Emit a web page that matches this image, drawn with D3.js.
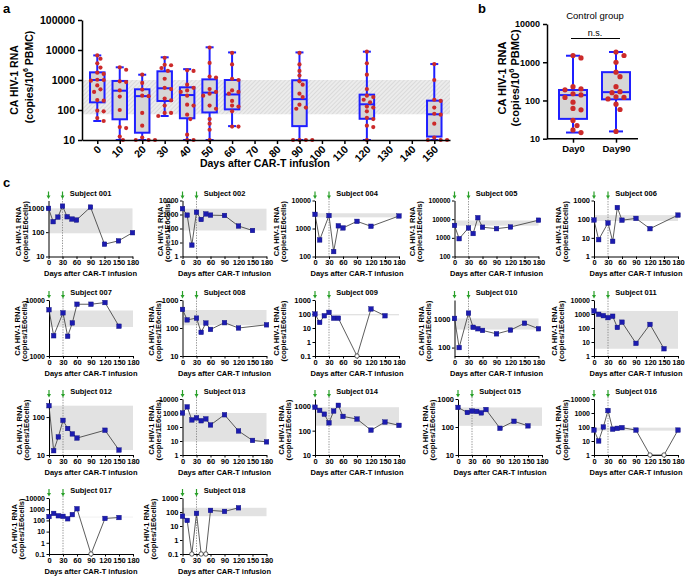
<!DOCTYPE html>
<html><head><meta charset="utf-8">
<script src="https://cdn.jsdelivr.net/npm/d3@7"></script>
<style>
body{margin:0;background:#fff}
svg{display:block}
text{font-family:"Liberation Sans",Arial,Helvetica,sans-serif}
</style>
</head><body>
<svg id="c" width="685" height="578"></svg>
<script>
// ---------------- DATA ----------------
// Panel a: days after CAR-T infusion
const daysA = [0,10,20,30,40,50,60,90,120,150];
// box stats per day: [min, q1, median, q3, max]
const boxA = [
  [43,180,1000,1800,6600],
  [10,49,440,930,2650],
  [10,17.5,290,490,1500],
  [63,200,530,1950,5700],
  [10,53,315,570,2300],
  [10,83,380,1050,12300],
  [29,105,330,1000,8300],
  [10,29,230,980,8300],
  [10,51,155,325,8800],
  [10,13,72,205,3400]
];
const pointsA = [
  [6600,5100,3600,2600,1750,1600,1020,1000,950,660,490,400,215,205,95,90,54,43],
  [2650,2200,900,850,450,280,100,27,25,13,10],
  [1500,800,480,300,290,80,30,12,10,10,10],
  [5500,3200,3100,2500,2000,1100,550,500,240,210,140,80,80,63],
  [2100,2000,700,550,450,400,300,150,140,70,50,15,10,10],
  [12000,3700,1300,1200,500,400,350,300,140,110,50,35,22,10],
  [8000,3300,1100,1000,450,400,350,200,140,130,90,28,28],
  [8000,3300,2000,1400,900,700,350,270,150,120,110,10,10,10,10],
  [8800,3600,1500,500,300,270,220,180,130,120,90,55,50,30,27,10],
  [3400,1000,220,200,120,75,70,35,12,10,10,10]
];
const bandA = [72,1000];
const ticksA = [10,100,1000,10000,100000];

// Panel b: control group
const groupsB = ["Day0","Day90"];
const boxB = [
  [14.5,33,138,188,1480],
  [15.5,107,165,550,1850]
];
const pointsB = [
  [1500,1300,230,200,190,150,140,120,90,62,57,30,22,17,14.5],
  [1850,1500,1000,550,420,230,170,160,125,120,110,80,58,15.5]
];
const ticksB = [10,100,1000,10000];

// Panel c: individual subjects (0 = undetectable, drawn as open circle at axis minimum)
const subjectIds = ["001","002","004","005","006","007","008","009","010","011","012","013","014","015","016","017","018"];
const subjectDays = [
  [0,10,20,30,40,50,60,90,120,150,180],
  [0,10,20,30,40,50,60,90,120,150],
  [0,10,30,40,50,60,90,120,180],
  [0,10,30,40,50,60,90,120,180],
  [0,10,30,40,50,60,90,120,180],
  [0,10,30,40,50,60,90,120,150],
  [0,10,30,40,50,60,90,120,180],
  [0,10,20,30,40,50,90,120,150],
  [0,10,30,40,50,60,90,120,150,180],
  [0,10,20,30,40,50,60,90,120,150],
  [0,10,20,30,40,50,60,120,150],
  [0,10,20,30,40,50,60,90,120,150,180],
  [0,10,20,30,40,50,60,90,120,150,180],
  [0,20,30,40,50,60,90,120,150],
  [0,10,20,30,40,50,60,90,120,150,180],
  [0,10,20,30,40,50,60,90,120,150],
  [0,10,20,30,40,50,60,90,120]
];
const subjectValues = [
  [950,270,415,1170,430,345,315,1070,32,44,95],
  [2600,900,6.5,1450,440,1100,900,850,150,72],
  [3200,390,2900,150,1250,1050,1800,1200,2800],
  [4600,900,3400,1700,12000,3700,3100,3800,8800],
  [90,8,63,6.5,420,88,110,31,165],
  [6700,2300,5900,2250,3900,8400,8400,9000,3400],
  [460,195,225,70,150,89,155,100,130],
  [100,25,75,130,50,50,0,230,75],
  [1100,100,1700,530,470,410,310,420,740,470],
  [1650,950,760,550,690,110,260,8,180,3.3],
  [200,13,30,82,50,36,28,45,13.5],
  [1000,2750,320,450,280,380,140,750,52,11,8.7],
  [920,680,475,210,640,1100,385,300,105,225,165],
  [500,330,370,360,320,420,90,160,110],
  [60,10,100,1500,70,80,90,60,0,0,60],
  [220,420,260,230,140,330,1100,0,150,180],
  [50,25,0,80,0,0,130,110,200]
];
const subjectBand = [
  [90,950],[72,2600],[2500,3500],[4500,8500],[80,165],
  [3300,6500],[125,440],[80,100],[440,1100],[3.3,1650],
  [13.5,200],[9,1000],[160,920],[110,500],[55,90],
  [190,210],[50,200]
];
const subjectYDomain = [
  [10,2000],[1,10000],[100,10000],[100,100000],[1,1000],
  [1000,10000],[10,1000],[0.1,1000],[50,5000],[1,10000],
  [10,300],[1,10000],[10,2000],[10,1000],[1,10000],
  [0.1,10000],[0.1,1000]
];
const xTicksC = [0,30,60,90,120,150,180];
const infusionDays = [0,30];

// ---------------- LAYOUT ----------------
const FONT = '"Liberation Sans",Arial,Helvetica,sans-serif';
const svg = d3.select("#c");
const defs = svg.append("defs");
const pat = defs.append("pattern").attr("id","hatch").attr("width",3).attr("height",3)
  .attr("patternUnits","userSpaceOnUse").attr("patternTransform","rotate(45)");
pat.append("rect").attr("width",3).attr("height",3).attr("fill","#ececec");
pat.append("line").attr("x1",0).attr("y1",0).attr("x2",0).attr("y2",3).attr("stroke","#c9c9c9").attr("stroke-width",1);

const BLUE = "#1f1fff", RED = "#cc2a2a", BOXFILL = "#d6d6d6";

function swarm(vals, yfun, cx, r, step){
  const placed = [];
  const sorted = vals.map((v,i)=>({v,i})).sort((a,b)=>b.v-a.v);
  sorted.forEach(p=>{
    const y = yfun(p.v);
    for(let k=0;k<20;k++){
      const off = k===0?0:(k%2?1:-1)*Math.ceil(k/2)*step;
      const x = cx+off;
      if(placed.every(q=>Math.hypot(q.x-x,q.y-y)>=2*r+0.3)){ placed.push({x,y}); break; }
    }
  });
  return placed;
}

function styleAxis(g, fs, sw){
  g.selectAll("path.domain").attr("stroke","#000").attr("stroke-width",sw);
  g.selectAll(".tick line").attr("stroke","#000").attr("stroke-width",sw);
  g.selectAll(".tick text").attr("font-family",FONT).attr("font-weight","bold").attr("font-size",fs).attr("fill","#000");
}

// ---------------- PANEL A ----------------
const xA = d3.scaleLinear().domain([-6.8,157]).range([82,450]);
const yA = d3.scaleLog().domain([10,100000]).range([140,20]);
const gA = svg.append("g");
gA.append("rect").attr("x",xA(-6.8)).attr("width",xA(157)-xA(-6.8))
  .attr("y",yA(bandA[1])).attr("height",yA(bandA[0])-yA(bandA[1])).attr("fill","url(#hatch)");

daysA.forEach((d,i)=>{
  const [mn,q1,md,q3,mx] = boxA[i];
  const cx = xA(d), w = 14.5, cw = 8;
  const g = gA.append("g");
  g.append("line").attr("x1",cx).attr("x2",cx).attr("y1",yA(mx)).attr("y2",yA(mn)).attr("stroke",BLUE).attr("stroke-width",2);
  g.append("rect").attr("x",cx-w/2).attr("width",w).attr("y",yA(q3)).attr("height",yA(q1)-yA(q3))
    .attr("fill",BOXFILL).attr("stroke",BLUE).attr("stroke-width",2);
  g.append("line").attr("x1",cx-w/2).attr("x2",cx+w/2).attr("y1",yA(md)).attr("y2",yA(md)).attr("stroke",BLUE).attr("stroke-width",2);
  [mx,mn].forEach(v=>g.append("line").attr("x1",cx-cw/2).attr("x2",cx+cw/2).attr("y1",yA(v)).attr("y2",yA(v)).attr("stroke",BLUE).attr("stroke-width",2));
  swarm(pointsA[i], yA, cx, 2.1, 3.2).forEach(p=>{
    g.append("circle").attr("cx",p.x).attr("cy",p.y).attr("r",2.1).attr("fill",RED);
  });
});

const yAxA = gA.append("g").attr("transform","translate(82,0)")
  .call(d3.axisLeft(yA).tickValues(ticksA).tickFormat(d3.format("d")).tickSize(4).tickSizeOuter(0));
styleAxis(yAxA, "10.5px", 1.5);
const xAxA = gA.append("g").attr("transform","translate(0,140)")
  .call(d3.axisBottom(xA).tickValues(d3.range(0,151,10)).tickSize(4).tickSizeOuter(0).tickFormat(d3.format("d")));
styleAxis(xAxA, "10.5px", 1.5);
xAxA.selectAll(".tick text").attr("text-anchor","end").attr("dy",null).attr("y",null)
  .attr("transform","translate(4,10) rotate(-45)");
gA.append("text").attr("x",265).attr("y",167).attr("text-anchor","middle").attr("font-weight","bold").attr("font-size","10.5px").text("Days after CAR-T infusion");
gA.append("text").attr("transform","translate(14,80) rotate(-90)").attr("text-anchor","middle").attr("dominant-baseline","central")
  .attr("font-weight","bold").attr("font-size","10.5px").text("CA HIV-1 RNA");
const tA = gA.append("text").attr("transform","translate(29,77) rotate(-90)").attr("text-anchor","middle").attr("dominant-baseline","central")
  .attr("font-weight","bold").attr("font-size","10.5px");
tA.append("tspan").text("(copies/10");
tA.append("tspan").attr("font-size","7px").attr("dy","-4").text("6");
tA.append("tspan").attr("dy","4").text(" PBMC)");
svg.append("text").attr("x",3).attr("y",13).attr("font-weight","bold").attr("font-size","13px").text("a");

// ---------------- PANEL B ----------------
const xB = d3.scalePoint().domain(groupsB).range([573,616]);
const yB = d3.scaleLog().domain([10,10000]).range([138.7,24]);
const gB = svg.append("g");
groupsB.forEach((gname,i)=>{
  const [mn,q1,md,q3,mx] = boxB[i];
  const cx = xB(gname), w = 28, cw = 14;
  gB.append("line").attr("x1",cx).attr("x2",cx).attr("y1",yB(mx)).attr("y2",yB(mn)).attr("stroke",BLUE).attr("stroke-width",2);
  gB.append("rect").attr("x",cx-w/2).attr("width",w).attr("y",yB(q3)).attr("height",yB(q1)-yB(q3))
    .attr("fill",BOXFILL).attr("stroke",BLUE).attr("stroke-width",2);
  gB.append("line").attr("x1",cx-w/2).attr("x2",cx+w/2).attr("y1",yB(md)).attr("y2",yB(md)).attr("stroke",BLUE).attr("stroke-width",2);
  [mx,mn].forEach(v=>gB.append("line").attr("x1",cx-cw/2).attr("x2",cx+cw/2).attr("y1",yB(v)).attr("y2",yB(v)).attr("stroke",BLUE).attr("stroke-width",2));
  swarm(pointsB[i], yB, cx, 2.6, 4).forEach(p=>{
    gB.append("circle").attr("cx",p.x).attr("cy",p.y).attr("r",2.6).attr("fill",RED);
  });
});
const yAxB = gB.append("g").attr("transform","translate(547,0)")
  .call(d3.axisLeft(yB).tickValues(ticksB).tickFormat(d3.format("d")).tickSize(4).tickSizeOuter(0));
styleAxis(yAxB, "9px", 1.5);
gB.append("line").attr("x1",547).attr("x2",638).attr("y1",138.7).attr("y2",138.7).attr("stroke","#000").attr("stroke-width",1.5);
const xAxB = gB.append("g").attr("transform","translate(0,138.7)")
  .call(d3.axisBottom(xB).tickSize(4).tickSizeOuter(0));
xAxB.select("path.domain").remove();
styleAxis(xAxB, "9.5px", 1.5);
gB.append("text").attr("x",595).attr("y",19).attr("text-anchor","middle").attr("font-size","9.5px").text("Control group");
gB.append("text").attr("x",595).attr("y",36).attr("text-anchor","middle").attr("font-size","9px").text("n.s.");
gB.append("line").attr("x1",571).attr("x2",620).attr("y1",38.5).attr("y2",38.5).attr("stroke","#000").attr("stroke-width",1);
gB.append("text").attr("transform","translate(502,78) rotate(-90)").attr("text-anchor","middle").attr("dominant-baseline","central")
  .attr("font-weight","bold").attr("font-size","11px").text("CA HIV-1 RNA");
const tB = gB.append("text").attr("transform","translate(515,78) rotate(-90)").attr("text-anchor","middle").attr("dominant-baseline","central")
  .attr("font-weight","bold").attr("font-size","11px");
tB.append("tspan").text("(copies/10");
tB.append("tspan").attr("font-size","7.5px").attr("dy","-4").text("6");
tB.append("tspan").attr("dy","4").text(" PBMC)");
svg.append("text").attr("x",478).attr("y",13).attr("font-weight","bold").attr("font-size","13px").text("b");

// ---------------- PANEL C ----------------
svg.append("text").attr("x",3).attr("y",187).attr("font-weight","bold").attr("font-size","13px").text("c");
const rowBottom = [256.5,356,455,554];
const axisXs = [48.5,182.5,315,454.5,594, 49,182.5,315,454.5,594, 49,182.5,315,458,594, 49,182.5];
const titleXs = [18.5,160,276.5,412,558, 17,151,276,421,554, 19,151,281,425,558, 14,146];
const PH = 56, PW = 84, FS = "7.5px";
const decFmt = d => d < 1 ? String(d) : d3.format("d")(d);

subjectIds.forEach((id,si)=>{
  const row = Math.floor(si/5);
  const bottom = rowBottom[row], top = bottom - PH, ax = axisXs[si];
  const x = d3.scaleLinear().domain([0,180]).range([ax, ax+PW]);
  const dom = subjectYDomain[si];
  const y = d3.scaleLog().domain(dom).range([bottom, top]);
  const g = svg.append("g");
  const band = subjectBand[si];
  g.append("rect").attr("x",x(0)).attr("width",x(180)-x(0)).attr("y",y(band[1])).attr("height",y(band[0])-y(band[1])).attr("fill","#e2e2e2");
  // infusion markers
  infusionDays.forEach(d=>{
    const xx = x(d);
    if(d>0) g.append("line").attr("x1",xx).attr("x2",xx).attr("y1",top-2).attr("y2",bottom).attr("stroke","#777").attr("stroke-width",0.8).attr("stroke-dasharray","1.3,1.3");
    g.append("line").attr("x1",xx).attr("x2",xx).attr("y1",top-9).attr("y2",top-4).attr("stroke","#2aa02a").attr("stroke-width",1.2);
    g.append("path").attr("d",`M${xx-2},${top-5}L${xx+2},${top-5}L${xx},${top-1.5}Z`).attr("fill","#2aa02a");
  });
  // axes
  const ticks = [];
  for(let e=-1;e<=5;e++){ const v=Math.pow(10,e); if(v>=dom[0]*0.999 && v<=dom[1]*1.001) ticks.push(+v.toPrecision(3)); }
  const maxLen = d3.max(ticks, t=>decFmt(t).length);
  const yfs = maxLen>=6 ? "6.6px" : (maxLen===5 ? "7px" : FS);
  const ya = g.append("g").attr("transform",`translate(${ax},0)`)
    .call(d3.axisLeft(y).tickValues(ticks).tickFormat(decFmt).tickSize(2.5).tickSizeOuter(0).tickPadding(1.5));
  styleAxis(ya, yfs, 1);
  const xa = g.append("g").attr("transform",`translate(0,${bottom})`)
    .call(d3.axisBottom(x).tickValues(xTicksC).tickSize(2.5).tickSizeOuter(0).tickPadding(1));
  styleAxis(xa, FS, 1);
  // data
  const pts = subjectDays[si].map((d,k)=>({d, v:subjectValues[si][k]}));
  const yv = p => p.v>0 ? y(p.v) : y(dom[0]);
  g.append("path").datum(pts).attr("d",d3.line().x(p=>x(p.d)).y(yv)).attr("fill","none").attr("stroke","#333").attr("stroke-width",0.8);
  pts.forEach(p=>{
    if(p.v>0) g.append("rect").attr("x",x(p.d)-2.3).attr("y",yv(p)-2.3).attr("width",4.6).attr("height",4.6).attr("fill","#1c1cb0").attr("stroke","#10107a").attr("stroke-width",0.4);
    else g.append("circle").attr("cx",x(p.d)).attr("cy",yv(p)).attr("r",2.2).attr("fill","#fff").attr("stroke","#333").attr("stroke-width",0.8);
  });
  // texts
  g.append("text").attr("x",ax+PW/2).attr("y",top-5).attr("text-anchor","middle").attr("font-weight","bold").attr("font-size",FS).text("Subject "+id);
  g.append("text").attr("x",ax+PW/2).attr("y",bottom+19.5).attr("text-anchor","middle").attr("font-weight","bold").attr("font-size",FS).text("Days after CAR-T infusion");
  const tx = titleXs[si], ty = (top+bottom)/2 + 3;
  g.append("text").attr("transform",`translate(${tx},${ty}) rotate(-90)`).attr("text-anchor","middle").attr("dominant-baseline","central")
    .attr("font-weight","bold").attr("font-size",FS).text("CA HIV-1 RNA");
  g.append("text").attr("transform",`translate(${tx+7},${ty}) rotate(-90)`).attr("text-anchor","middle").attr("dominant-baseline","central")
    .attr("font-weight","bold").attr("font-size",FS).text("(copies/1E6cells)");
});
</script>
</body></html>
